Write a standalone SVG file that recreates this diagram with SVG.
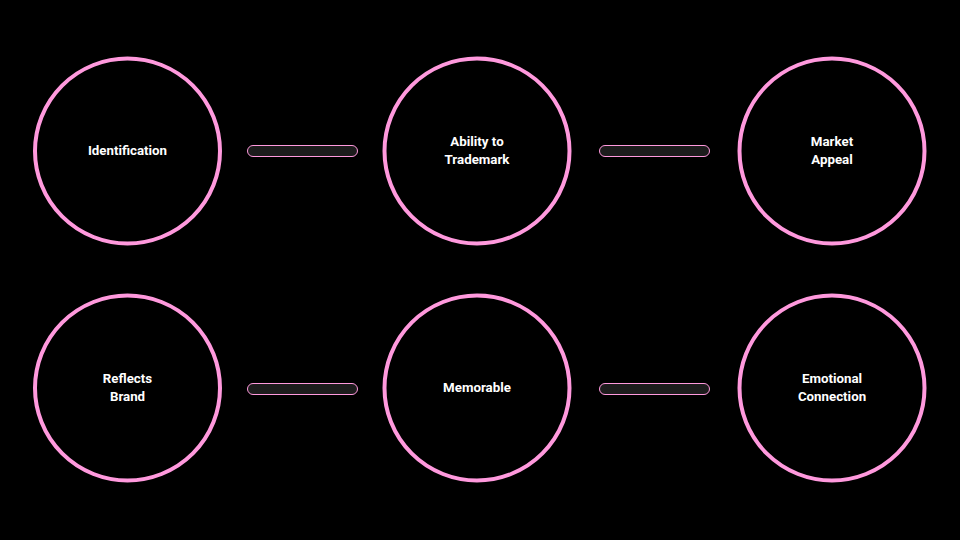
<svg xmlns="http://www.w3.org/2000/svg" width="960" height="540" viewBox="0 0 960 540">
<style>
.node circle{fill:#000;stroke:#FF99DD;stroke-width:4}
.lbl{font-family:Roboto,"Liberation Sans",sans-serif;font-weight:700;font-size:13.3px;fill:#fff;text-anchor:middle}
.conn rect{fill:#1c1c1c;stroke:#FF99DD;stroke-width:1}
</style>
<rect width="960" height="540" fill="#000"/>
<g id="connectors" class="conn">
<rect x="247.5" y="145.5" width="110" height="11" rx="5.5"/>
<rect x="599.5" y="145.5" width="110" height="11" rx="5.5"/>
<rect x="247.5" y="383.5" width="110" height="11" rx="5.5"/>
<rect x="599.5" y="383.5" width="110" height="11" rx="5.5"/>
</g>
<g id="identification" class="node"><circle cx="127.5" cy="151" r="92.5"/><text class="lbl" x="127.5" y="154.5">Identification</text></g>
<g id="trademark" class="node"><circle cx="477" cy="151" r="92.5"/><text class="lbl" x="477" y="145.5">Ability to</text><text class="lbl" x="477" y="163.5">Trademark</text></g>
<g id="market" class="node"><circle cx="832" cy="151" r="92.5"/><text class="lbl" x="832" y="145.5">Market</text><text class="lbl" x="832" y="163.5">Appeal</text></g>
<g id="reflects" class="node"><circle cx="127.5" cy="388" r="92.5"/><text class="lbl" x="127.5" y="383">Reflects</text><text class="lbl" x="127.5" y="401">Brand</text></g>
<g id="memorable" class="node"><circle cx="477" cy="388" r="92.5"/><text class="lbl" x="477" y="392">Memorable</text></g>
<g id="emotional" class="node"><circle cx="832" cy="388" r="92.5"/><text class="lbl" x="832" y="383">Emotional</text><text class="lbl" x="832" y="401">Connection</text></g>
</svg>
